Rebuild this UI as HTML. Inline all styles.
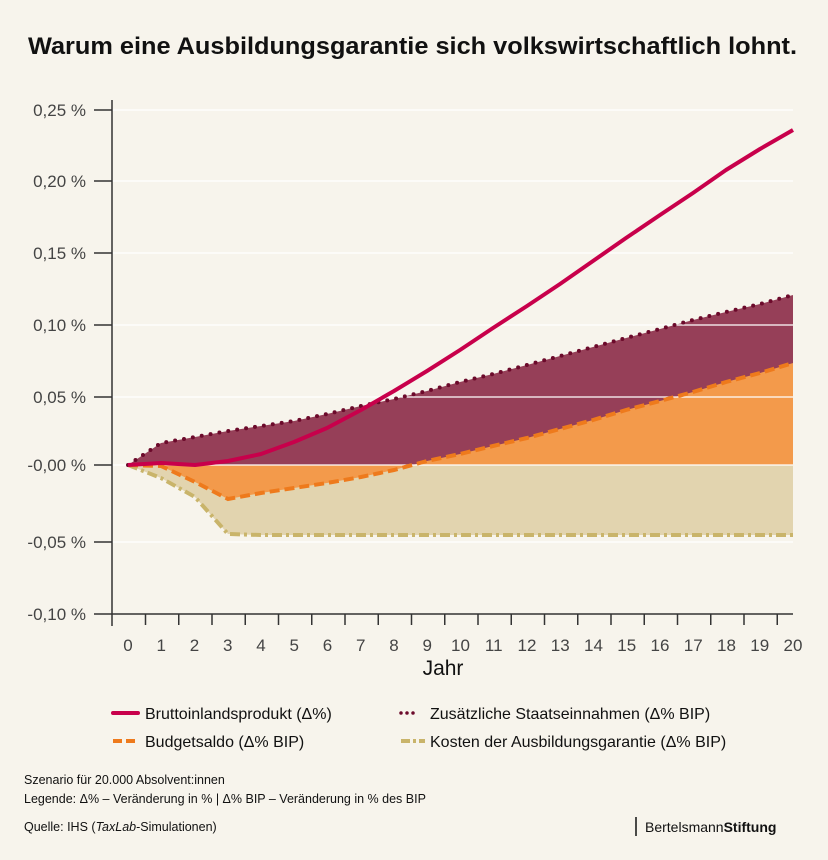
<!DOCTYPE html>
<html><head><meta charset="utf-8"><style>
body{margin:0;background:#f7f4ec;}
svg{display:block;font-family:"Liberation Sans",sans-serif;}
</style></head><body>
<svg width="828" height="860" viewBox="0 0 828 860">
<rect width="828" height="860" fill="#f7f4ec"/>
<text x="28" y="54" font-size="24" font-weight="bold" fill="#111" textLength="769" lengthAdjust="spacingAndGlyphs">Warum eine Ausbildungsgarantie sich volkswirtschaftlich lohnt.</text>
<!-- fills -->
<polygon fill="#e2d4af" points="128,465 161,478 195,497 228,534 261,535 793,535 793,465"/>
<polygon fill="#963f58" points="128,465 161,443 195,437 228,431 261,426 294,421 327,414 361,406 394,399 427,391 460,382 493,374 527,365 560,356 593,347 626,338 660,329 693,320 726,312 760,304 793,295 793,465"/>
<polygon fill="#f39a4b" points="128,465 161,466 195,482 228,499 261,493 294,488 327,483 361,477 394,470 427,461 460,454 493,446 527,438 560,429 593,420 626,410 660,401 693,392 726,382 760,373 793,363 793,465"/>
<!-- grid -->
<g stroke="#fff" stroke-width="1.3">
<line x1="112" x2="793" y1="110" y2="110"/><line x1="112" x2="793" y1="181" y2="181"/><line x1="112" x2="793" y1="253" y2="253"/><line x1="112" x2="793" y1="325" y2="325"/><line x1="112" x2="793" y1="397" y2="397"/><line x1="112" x2="793" y1="465" y2="465"/><line x1="112" x2="793" y1="542" y2="542"/>
</g>
<!-- lines -->
<polyline fill="none" stroke="#c9b46a" stroke-width="4" stroke-dasharray="10,4,3,4" points="128,465 161,478 195,497 228,534 261,535 793,535"/>
<polyline fill="none" stroke="#ee7a1c" stroke-width="4" stroke-dasharray="10,5" points="128,465 161,466 195,482 228,499 261,493 294,488 327,483 361,477 394,470 427,461 460,454 493,446 527,438 560,429 593,420 626,410 660,401 693,392 726,382 760,373 793,363"/>
<polyline fill="none" stroke="#6c0a2b" stroke-width="4" stroke-linecap="round" stroke-dasharray="0,9" points="128,465 161,443 195,437 228,431 261,426 294,421 327,414 361,406 394,399 427,391 460,382 493,374 527,365 560,356 593,347 626,338 660,329 693,320 726,312 760,304 793,295"/>
<polyline fill="none" stroke="#c8004b" stroke-width="4" stroke-linejoin="round" points="128,465 161,463 195,465 228,461 261,454 294,442 327,428 361,410 394,391 427,371 460,350 493,328 527,306 560,284 593,261 626,238 660,215 693,193 726,170 760,149 793,130"/>
<!-- axes -->
<g stroke="#333" stroke-width="1.5">
<line x1="112" y1="100" x2="112" y2="626"/>
<line x1="94" y1="614" x2="793" y2="614"/>
<line x1="94" y1="110" x2="112" y2="110"/><line x1="94" y1="181" x2="112" y2="181"/><line x1="94" y1="253" x2="112" y2="253"/><line x1="94" y1="325" x2="112" y2="325"/><line x1="94" y1="397" x2="112" y2="397"/><line x1="94" y1="465" x2="112" y2="465"/><line x1="94" y1="542" x2="112" y2="542"/>
</g>
<g stroke="#333" stroke-width="1.5" id="xt"></g>
<g font-size="17" fill="#444" text-anchor="end">
<text x="86" y="116">0,25 %</text><text x="86" y="187">0,20 %</text><text x="86" y="259">0,15 %</text><text x="86" y="331">0,10 %</text><text x="86" y="403">0,05 %</text><text x="86" y="471">-0,00 %</text><text x="86" y="548">-0,05 %</text><text x="86" y="620">-0,10 %</text>
</g>
<g font-size="17" fill="#444" text-anchor="middle" id="xl"></g>
<text x="443" y="675" font-size="21" fill="#111" text-anchor="middle">Jahr</text>
<!-- legend -->
<line x1="113" y1="713" x2="138" y2="713" stroke="#c8004b" stroke-width="4" stroke-linecap="round"/>
<text x="145" y="719" font-size="16" fill="#111">Bruttoinlandsprodukt (Δ%)</text>
<line x1="267" y1="713" x2="285" y2="713" stroke="#6c0a2b" stroke-width="3.5" stroke-linecap="round" stroke-dasharray="0,6" transform="translate(134,0)"/>
<text x="290" y="719" font-size="16" fill="#111" transform="translate(140,0)">Zusätzliche Staatseinnahmen (Δ% BIP)</text>
<line x1="113" y1="741" x2="138" y2="741" stroke="#ee7a1c" stroke-width="4" stroke-dasharray="9,4"/>
<text x="145" y="747" font-size="16" fill="#111">Budgetsaldo (Δ% BIP)</text>
<line x1="401" y1="741" x2="425" y2="741" stroke="#c9b46a" stroke-width="4" stroke-dasharray="9,3,3,3"/>
<text x="430" y="747" font-size="16" fill="#111">Kosten der Ausbildungsgarantie (Δ% BIP)</text>
<g font-size="12.5" fill="#111">
<text x="24" y="784">Szenario für 20.000 Absolvent:innen</text>
<text x="24" y="803">Legende: Δ% – Veränderung in %  |  Δ% BIP – Veränderung in % des BIP</text>
<text x="24" y="831">Quelle: IHS (<tspan font-style="italic">TaxLab</tspan>-Simulationen)</text>
</g>
<line x1="636" y1="817" x2="636" y2="836" stroke="#111" stroke-width="1.5"/>
<text x="645" y="832" font-size="14" fill="#111">Bertelsmann<tspan font-weight="bold">Stiftung</tspan></text>
<script>
var xt=document.getElementById('xt'),xl=document.getElementById('xl'),ns='http://www.w3.org/2000/svg';
for(var i=0;i<=20;i++){var x=128+i*33.25;
var t=document.createElementNS(ns,'text');t.setAttribute('x',x);t.setAttribute('y',651);t.textContent=i;xl.appendChild(t);
var l=document.createElementNS(ns,'line');var tx=x+17.5;if(i<20){l.setAttribute('x1',tx);l.setAttribute('x2',tx);l.setAttribute('y1',614);l.setAttribute('y2',625);xt.appendChild(l);}}
</script>
</svg>
</body></html>
